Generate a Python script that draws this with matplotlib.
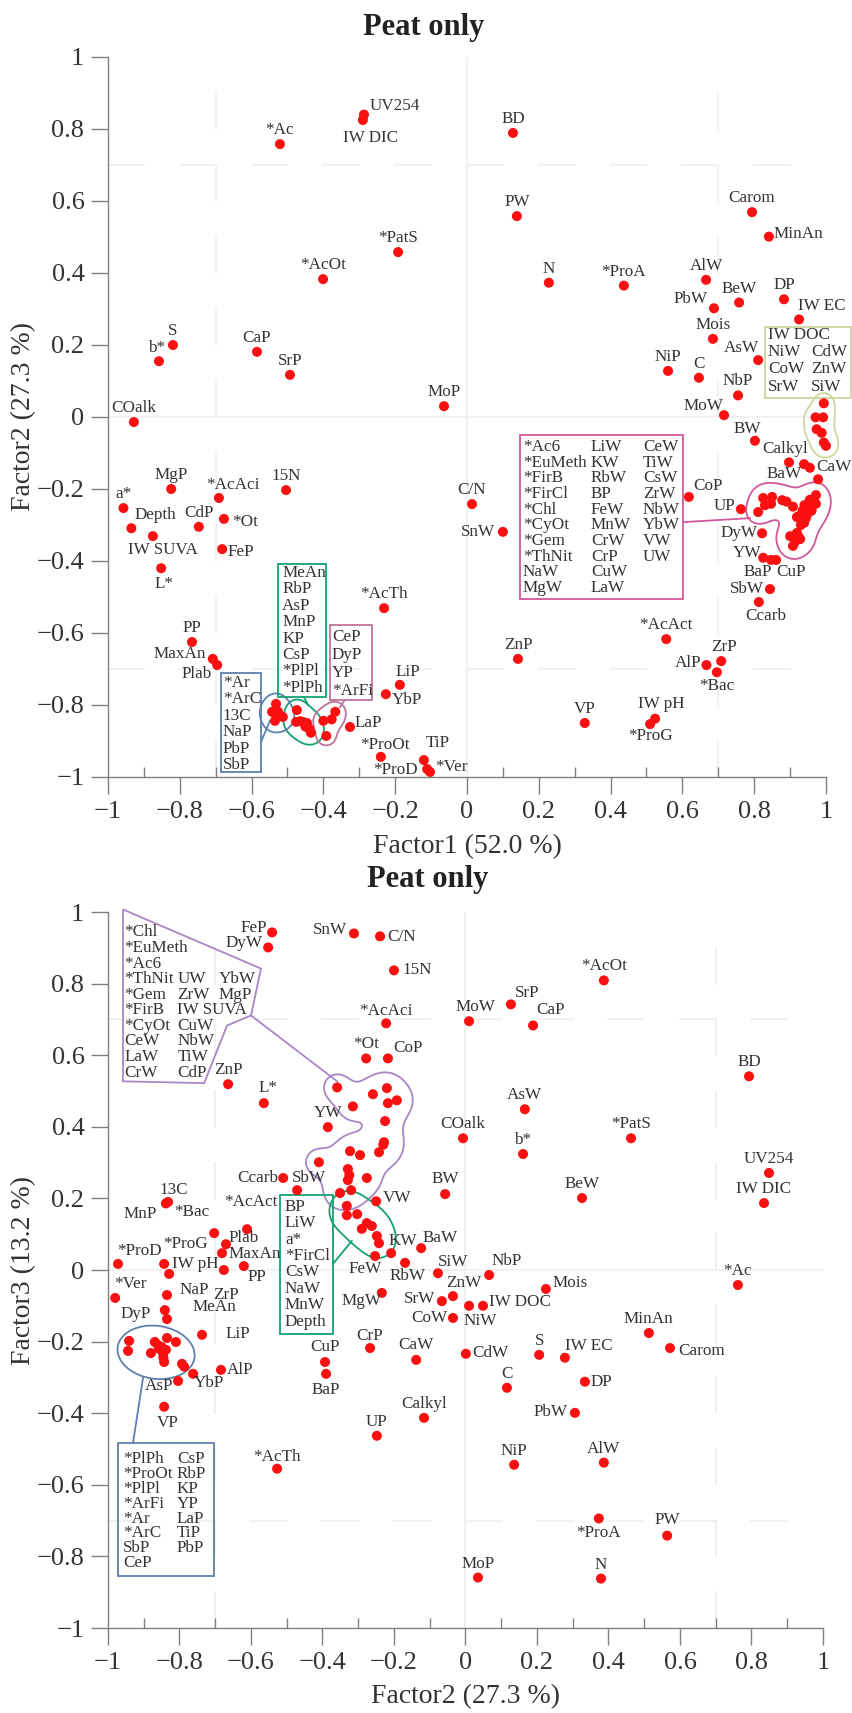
import numpy as np
import matplotlib
matplotlib.use('Agg')
import matplotlib.pyplot as plt
from matplotlib.patches import Rectangle, Polygon, Ellipse
from matplotlib.ticker import FuncFormatter

plt.rcParams['font.family'] = ['Liberation Serif', 'DejaVu Serif']

# ---------------- top panel : Factor1 vs Factor2 ----------------
TOP_NAMES = ['UV254', 'IW DIC', '*Ac', '*PatS', '*AcOt', 'S', 'b*', 'CaP', 'SrP', 'MoP',
             'COalk', 'BD', 'PW', 'N', '*ProA', 'Carom', 'MinAn', 'AlW', 'BeW', 'PbW',
             'DP', 'IW EC', 'Mois', 'AsW', 'NiP', 'C', 'NbP', 'MoW', 'C/N', 'SnW',
             'CoP', 'UP', 'BW', 'Calkyl', 'BaW', 'CaW', '', 'DyW', 'YW', 'BaP',
             'CuP', 'SbW', 'Ccarb', '*AcAct', 'ZnP', 'ZrP', 'AlP', '*Bac', 'VP', 'IW pH',
             '*ProG', 'MgP', 'a*', 'Depth', 'IW SUVA', 'CdP', '*AcAci', '*Ot', 'FeP', '15N',
             'L*', '*AcTh', 'PP', 'MaxAn', 'Plab', 'LiP', 'YbP', 'LaP', '*ProOt', 'TiP',
             '*ProD', '*Ver']
TOP_X = [-0.287, -0.290, -0.521, -0.192, -0.401, -0.819, -0.858, -0.585, -0.493, -0.064,
         -0.928, 0.128, 0.139, 0.228, 0.437, 0.794, 0.841, 0.666, 0.758, 0.688,
         0.883, 0.925, 0.685, 0.811, 0.560, 0.646, 0.755, 0.716, 0.014, 0.100,
         0.618, 0.763, 0.802, 0.897, 0.939, 0.955, 0.978, 0.822, 0.825, 0.847,
         0.861, 0.844, 0.813, 0.555, 0.142, 0.708, 0.667, 0.696, 0.328, 0.524,
         0.510, -0.824, -0.957, -0.935, -0.875, -0.747, -0.691, -0.677, -0.682, -0.504,
         -0.852, -0.231, -0.766, -0.708, -0.696, -0.187, -0.226, -0.326, -0.240, -0.120,
         -0.111, -0.103]
TOP_Y = [0.840, 0.825, 0.758, 0.458, 0.383, 0.200, 0.155, 0.181, 0.117, 0.030,
         -0.014, 0.789, 0.558, 0.373, 0.365, 0.569, 0.501, 0.381, 0.318, 0.302,
         0.327, 0.271, 0.217, 0.158, 0.128, 0.109, 0.060, 0.005, -0.242, -0.319,
         -0.222, -0.256, -0.066, -0.126, -0.131, -0.141, -0.173, -0.323, -0.391, -0.397,
         -0.397, -0.478, -0.514, -0.617, -0.672, -0.678, -0.689, -0.709, -0.850, -0.838,
         -0.853, -0.200, -0.253, -0.309, -0.331, -0.305, -0.225, -0.283, -0.367, -0.203,
         -0.420, -0.531, -0.625, -0.672, -0.689, -0.744, -0.770, -0.861, -0.944, -0.953,
         -0.978, -0.986]

# grouped variables of the top panel
TOP_YEL_X = [0.994, 0.971, 0.992, 0.974, 0.988, 0.994, 1.000]
TOP_YEL_Y = [0.038, -0.001, -0.001, -0.034, -0.044, -0.071, -0.080]
TOP_YEL_COLS = [['IW DOC', 'NiW', 'CoW', 'SrW'], ['', 'CdW', 'ZnW', 'SiW']]

TOP_PINK_X = [0.825, 0.850, 0.847, 0.878, 0.908, 0.811, 0.925, 0.947, 0.958, 0.972,
              0.972, 0.950, 0.939, 0.919, 0.944, 0.900, 0.919, 0.928, 0.908, 0.935,
              0.960, 0.890, 0.930, 0.915, 0.940, 0.830, 0.955, 0.922]
TOP_PINK_Y = [-0.225, -0.222, -0.241, -0.231, -0.249, -0.264, -0.275, -0.253, -0.247, -0.217,
              -0.241, -0.267, -0.294, -0.278, -0.281, -0.331, -0.322, -0.339, -0.358, -0.260,
              -0.260, -0.235, -0.300, -0.345, -0.245, -0.245, -0.230, -0.330]
TOP_PINK_COLS = [['*Ac6', '*EuMeth', '*FirB', '*FirCl', '*Chl', '*CyOt', '*Gem', '*ThNit', 'NaW', 'MgW'],
                 ['LiW', 'KW', 'RbW', 'BP', 'FeW', 'MnW', 'CrW', 'CrP', 'CuW', 'LaW'],
                 ['CeW', 'TiW', 'CsW', 'ZrW', 'NbW', 'YbW', 'VW', 'UW']]

TOP_GREEN_X = [-0.474, -0.476, -0.457, -0.446, -0.435, -0.465, -0.450, -0.440]
TOP_GREEN_Y = [-0.814, -0.847, -0.847, -0.850, -0.877, -0.845, -0.860, -0.865]
TOP_GREEN_COLS = [['MeAn', 'RbP', 'AsP', 'MnP', 'KP', 'CsP', '*PlPl', '*PlPh']]

TOP_MAUVE_X = [-0.367, -0.377, -0.400, -0.392]
TOP_MAUVE_Y = [-0.819, -0.840, -0.844, -0.886]
TOP_MAUVE_COLS = [['CeP', 'DyP', 'YP', '*ArFi']]

TOP_BLUE_X = [-0.532, -0.543, -0.526, -0.513, -0.535, -0.530]
TOP_BLUE_Y = [-0.797, -0.819, -0.819, -0.833, -0.844, -0.830]
TOP_BLUE_COLS = [['*Ar', '*ArC', '13C', 'NaP', 'PbP', 'SbP']]

# ---------------- bottom panel : Factor2 vs Factor3 ----------------
BOT_NAMES = ['FeP', 'DyW', 'SnW', 'C/N', '15N', '*AcAci', '*Ot', 'CoP', 'ZnP', 'L*',
             'YW', 'Ccarb', 'SbW', '13C', 'MnP', 'VW', 'BW', 'KW', 'BaW', '*AcAct',
             '*Bac', 'Plab', 'MaxAn', 'PP', 'ZrP', '*ProG', 'IW pH', '*ProD', '*Ver', 'NaP',
             'MeAn', 'DyP', 'LiP', 'AlP', 'YbP', 'AsP', 'VP', 'FeW', 'RbW', 'MgW',
             'SiW', 'ZnW', 'SrW', 'CoW', 'NbP', 'NiW', 'IW DOC', 'COalk', 'b*', 'Mois',
             'CdW', 'S', 'IW EC', 'C', 'DP', 'MinAn', 'Carom', 'CaW', '*Ac', 'PbW',
             'NiP', 'AlW', '*ProA', 'PW', 'MoP', 'N', '*AcOt', 'SrP', 'CaP', 'MoW',
             'BD', 'AsW', '*PatS', 'UV254', 'IW DIC', 'BeW', 'CuP', 'BaP', 'CrP', 'Calkyl',
             'UP', '*AcTh']
BOT_X = [-0.541, -0.552, -0.312, -0.239, -0.200, -0.222, -0.278, -0.217, -0.664, -0.564,
         -0.385, -0.510, -0.471, -0.832, -0.838, -0.250, -0.057, -0.208, -0.124, -0.611,
         -0.703, -0.670, -0.681, -0.620, -0.676, -0.843, -0.829, -0.972, -0.980, -0.835,
         -0.841, -0.835, -0.737, -0.684, -0.762, -0.804, -0.843, -0.253, -0.169, -0.234,
         -0.077, -0.035, -0.066, -0.035, 0.066, 0.010, 0.049, -0.007, 0.161, 0.225,
         0.001, 0.206, 0.278, 0.116, 0.334, 0.513, 0.572, -0.138, 0.762, 0.306,
         0.136, 0.387, 0.373, 0.564, 0.035, 0.379, 0.387, 0.127, 0.189, 0.010,
         0.793, 0.166, 0.463, 0.849, 0.835, 0.326, -0.393, -0.390, -0.267, -0.116,
         -0.248, -0.527]
BOT_Y = [0.943, 0.901, 0.940, 0.932, 0.837, 0.689, 0.591, 0.591, 0.519, 0.466,
         0.399, 0.257, 0.223, 0.190, 0.186, 0.192, 0.212, 0.047, 0.061, 0.114,
         0.103, 0.072, 0.047, 0.011, 0.000, 0.017, -0.011, 0.017, -0.078, -0.070,
         -0.112, -0.137, -0.181, -0.279, -0.290, -0.310, -0.382, 0.039, 0.020, -0.064,
         -0.009, -0.073, -0.087, -0.134, -0.014, -0.100, -0.100, 0.368, 0.324, -0.053,
         -0.234, -0.237, -0.245, -0.329, -0.312, -0.176, -0.218, -0.251, -0.042, -0.399,
         -0.544, -0.538, -0.694, -0.742, -0.859, -0.862, 0.809, 0.742, 0.683, 0.695,
         0.541, 0.449, 0.368, 0.271, 0.187, 0.201, -0.257, -0.290, -0.218, -0.413,
         -0.463, -0.555]

BOT_PURPLE_X = [-0.359, -0.259, -0.220, -0.192, -0.217, -0.315, -0.225, -0.228, -0.242, -0.295,
                -0.323, -0.410, -0.329, -0.329, -0.276, -0.320, -0.351, -0.325, -0.230]
BOT_PURPLE_Y = [0.510, 0.491, 0.508, 0.474, 0.466, 0.457, 0.416, 0.357, 0.329, 0.321,
                0.332, 0.301, 0.282, 0.251, 0.257, 0.223, 0.215, 0.265, 0.350]
BOT_PURPLE_COLS = [['*Chl', '*EuMeth', '*Ac6', '*ThNit', '*Gem', '*FirB', '*CyOt', 'CeW', 'LaW', 'CrW'],
                   ['', '', '', 'UW', 'ZrW', 'IW SUVA', 'CuW', 'NbW', 'TiW', 'CdP'],
                   ['', '', '', 'YbW', 'MgP']]

BOT_GREEN_X = [-0.332, -0.332, -0.303, -0.276, -0.262, -0.290, -0.248, -0.242]
BOT_GREEN_Y = [0.179, 0.153, 0.156, 0.131, 0.123, 0.115, 0.095, 0.075]
BOT_GREEN_COLS = [['BP', 'LiW', 'a*', '*FirCl', 'CsW', 'NaW', 'MnW', 'Depth']]

BOT_BLUE_X = [-0.941, -0.944, -0.869, -0.880, -0.857, -0.838, -0.846, -0.835, -0.810, -0.843,
              -0.793, -0.787, -0.850, -0.845, -0.860]
BOT_BLUE_Y = [-0.198, -0.226, -0.201, -0.232, -0.220, -0.223, -0.234, -0.190, -0.201, -0.257,
              -0.262, -0.270, -0.215, -0.245, -0.210]
BOT_BLUE_COLS = [['*PlPh', '*ProOt', '*PlPl', '*ArFi', '*Ar', '*ArC', 'SbP', 'CeP'],
                 ['CsP', 'RbP', 'KP', 'YP', 'LaP', 'TiP', 'PbP']]

# label placement (offset in pixels, + = up) ; default is centred above the dot
TOP_LABEL_POS = {
    'UV254': (6, 9, 'left'), 'IW DIC': (8, -18, 'center'), 'b*': (-2, 13, 'center'),
    'MinAn': (5, 3, 'left'), 'PbW': (-6, 9, 'right'), 'IW EC': (23, 13, 'center'),
    'AsW': (-17, 12, 'center'), 'MoW': (-21, 9, 'center'), 'SnW': (-8, 0, 'right'),
    'CoP': (19, 11, 'center'), 'UP': (-6, 3, 'right'), 'BW': (-8, 12, 'center'),
    'Calkyl': (-4, 13, 'center'), 'BaW': (-20, -10, 'center'), 'CaW': (6, 1, 'left'),
    'DyW': (-5, 0, 'right'), 'YW': (-2, 5, 'right'), 'BaP': (-13, -12, 'center'),
    'CuP': (15, -12, 'center'), 'SbW': (-6, 0, 'right'), 'Ccarb': (7, -14, 'center'),
    'ZrP': (3, 14, 'center'), 'AlP': (-5, 2, 'right'), '*Bac': (0, -14, 'center'),
    'IW pH': (6, 15, 'center'), '*ProG': (0, -12, 'center'), 'Depth': (3, 13, 'left'),
    'IW SUVA': (10, -14, 'center'), '*AcAci': (14, 13, 'center'), '*Ot': (8, -3, 'left'),
    'FeP': (5, -3, 'left'), 'L*': (3, -16, 'center'), 'MaxAn': (-7, 5, 'right'),
    'Plab': (-5, -9, 'right'), 'LiP': (8, 13, 'center'), 'YbP': (6, -6, 'left'),
    'LaP': (5, 4, 'left'), '*ProOt': (4, 12, 'center'), 'TiP': (14, 17, 'center'),
    '*ProD': (-9, -1, 'right'), '*Ver': (5, 5, 'left'),
}
BOT_LABEL_POS = {
    'FeP': (-5, 4, 'right'), 'DyW': (-6, 4, 'right'), 'SnW': (-7, 3, 'right'),
    'C/N': (7, -1, 'left'), '15N': (9, 0, 'left'), '*AcAci': (0, 12, 'center'),
    'CoP': (20, 10, 'center'), 'L*': (4, 15, 'center'), 'Ccarb': (-5, 0, 'right'),
    'SbW': (12, 12, 'center'), '13C': (6, 12, 'center'), 'MnP': (-26, -11, 'center'),
    'VW': (7, 3, 'left'), 'BW': (0, 15, 'center'), 'KW': (12, 12, 'center'),
    'BaW': (19, 10, 'center'), '*AcAct': (4, 27, 'center'), '*Bac': (-22, 21, 'center'),
    'Plab': (3, 6, 'left'), 'MaxAn': (7, -1, 'left'), 'PP': (13, -11, 'center'),
    'ZrP': (2, -25, 'center'), '*ProG': (21, 20, 'center'), 'IW pH': (3, 10, 'left'),
    '*ProD': (21, 13, 'center'), '*Ver': (15, 14, 'center'), 'NaP': (13, 5, 'left'),
    'MeAn': (28, 3, 'left'), 'DyP': (-16, 5, 'right'), 'LiP': (24, 1, 'left'),
    'AlP': (6, 0, 'left'), 'YbP': (16, -9, 'center'), 'AsP': (-19, -5, 'center'),
    'VP': (4, -16, 'center'), 'FeW': (-10, -13, 'center'), 'RbW': (2, -13, 'center'),
    'MgW': (-20, -8, 'center'), 'SiW': (15, 11, 'center'), 'ZnW': (11, 13, 'center'),
    'SrW': (-7, 2, 'right'), 'CoW': (-6, 0, 'right'), 'NbP': (18, 14, 'center'),
    'NiW': (11, -15, 'center'), 'IW DOC': (6, 4, 'left'), 'Mois': (7, 6, 'left'),
    'CdW': (6, 1, 'left'), 'IW EC': (24, 12, 'center'), 'DP': (6, 0, 'left'),
    'Carom': (8, -3, 'left'), 'CaW': (0, 15, 'center'), 'PbW': (-7, 1, 'right'),
    '*ProA': (0, -15, 'center'), 'PW': (0, 16, 'center'), 'SrP': (16, 11, 'center'),
    'CaP': (17, 15, 'center'), 'MoW': (6, 14, 'center'), 'CuP': (0, 15, 'center'),
    'BaP': (0, -16, 'center'), 'CrP': (0, 12, 'center'), '*AcTh': (0, 12, 'center'),
}

RED = '#fa1010'
TXT = '#333333'
AX_COL = '#808080'
GRID = '#f1f1f1'
FS = 12.3


def tick_fmt(v, pos):
    if abs(v) < 1e-9:
        return '0'
    return f'{v:g}'.replace('-', '\u2212')


def style_axes(ax, xlabel, ylabel):
    ax.set_xlim(-1, 1)
    ax.set_ylim(-1, 1)
    for s in ['top', 'right']:
        ax.spines[s].set_visible(False)
    for s in ['left', 'bottom']:
        ax.spines[s].set_color(AX_COL)
        ax.spines[s].set_linewidth(1.0)
    ax.set_xticks(np.arange(-1, 1.01, 0.2))
    ax.set_yticks(np.arange(-1, 1.01, 0.2))
    ax.set_xticks(np.arange(-0.9, 1.0, 0.2), minor=True)
    ax.xaxis.set_major_formatter(FuncFormatter(tick_fmt))
    ax.yaxis.set_major_formatter(FuncFormatter(tick_fmt))
    ax.tick_params(which='major', direction='out', length=12, width=1, color=AX_COL,
                   labelsize=19, labelcolor=TXT, pad=5)
    ax.tick_params(axis='x', which='minor', direction='in', length=7, width=1, color=AX_COL)
    # faint reference lines at 0 and +/-0.7
    ax.axhline(0, color=GRID, lw=1.5, zorder=0)
    ax.axvline(0, color=GRID, lw=1.5, zorder=0)
    for a in (-0.7, 0.7):
        for s in np.arange(-1, 0.95, 0.2):
            ax.plot([s, s + 0.1], [a, a], color=GRID, lw=1.5, zorder=0)
            ax.plot([a, a], [s, s + 0.1], color=GRID, lw=1.5, zorder=0)
    ax.text(0.5, -0.096, xlabel, transform=ax.transAxes, ha='center', va='center',
            fontsize=20, color=TXT)
    ax.text(-0.118, 0.5, ylabel, transform=ax.transAxes, ha='center', va='center',
            rotation=90, fontsize=20, color=TXT)


def draw_points(ax, names, xs, ys, label_pos):
    ax.scatter(xs, ys, s=52, color=RED, edgecolors='none', zorder=5, clip_on=False)
    for n, x, y in zip(names, xs, ys):
        if not n:
            continue
        dx, dy, ha = label_pos.get(n, (0, 14, 'center'))
        ax.annotate(n, (x, y), xytext=(dx, dy), textcoords='offset pixels',
                    ha=ha, va='center', fontsize=FS, color=TXT, zorder=6)


def draw_group(ax, xs, ys):
    ax.scatter(xs, ys, s=52, color=RED, edgecolors='none', zorder=5, clip_on=False)


def blob(ax, xs, ys, color, pad, sigma):
    xs, ys = np.asarray(xs), np.asarray(ys)
    m = pad + 3 * sigma
    gx = np.linspace(xs.min() - m, xs.max() + m, 400)
    gy = np.linspace(ys.min() - m, ys.max() + m, 400)
    X, Y = np.meshgrid(gx, gy)
    F = np.zeros_like(X)
    for x, y in zip(xs, ys):
        F += np.exp(-((X - x) ** 2 + (Y - y) ** 2) / (2 * sigma ** 2))
    lev = np.exp(-pad ** 2 / (2 * sigma ** 2))
    cs = ax.contour(X, Y, F, levels=[lev], colors=[color], linewidths=1.3, zorder=4)
    cs.set_clip_on(False)


def box_text(ax, cols, col_x, y0, step, color, rect=None):
    for col, cx in zip(cols, col_x):
        for ri, t in enumerate(col):
            if t:
                ax.text(cx, y0 - ri * step, t, ha='left', va='center', fontsize=FS,
                        color=TXT, zorder=6, clip_on=False)
    if rect is not None:
        (x0, y0r), (x1, y1r) = rect
        ax.add_patch(Rectangle((x0, y0r), x1 - x0, y1r - y0r, fill=False, ec=color,
                               lw=1.3, zorder=4, clip_on=False))


def link(ax, p, q, color):
    ax.plot([p[0], q[0]], [p[1], q[1]], color=color, lw=1.3, zorder=4, clip_on=False)


YEL = '#cdd69c'
PINK = '#d0579b'
GREEN = '#14a26f'
MAUVE = '#c0739a'
BLUE = '#5f7fae'
PURPLE = '#a985c6'

fig = plt.figure(figsize=(8.52, 17.13), dpi=100)
ax1 = fig.add_axes([0.12676, 0.54641, 0.84272, 0.42032])
ax2 = fig.add_axes([0.12676, 0.04962, 0.83920, 0.41798])

# ----- top panel -----
style_axes(ax1, 'Factor1 (52.0 %)', 'Factor2 (27.3 %)')
draw_points(ax1, TOP_NAMES, TOP_X, TOP_Y, TOP_LABEL_POS)
for gx, gy, col, pad, sig in [(TOP_YEL_X, TOP_YEL_Y, YEL, 0.028, 0.02),
                              (TOP_PINK_X, TOP_PINK_Y, PINK, 0.03, 0.022),
                              (TOP_GREEN_X, TOP_GREEN_Y, GREEN, 0.028, 0.02),
                              (TOP_MAUVE_X, TOP_MAUVE_Y, MAUVE, 0.026, 0.02),
                              (TOP_BLUE_X, TOP_BLUE_Y, BLUE, 0.026, 0.02)]:
    draw_group(ax1, gx, gy)
    blob(ax1, gx, gy, col, pad, sig)

box_text(ax1, TOP_YEL_COLS, [0.838, 0.958], 0.228, 0.0478, YEL, rect=((0.830, 0.053), (1.070, 0.250)))
box_text(ax1, TOP_PINK_COLS, [0.156, 0.345, 0.490], -0.083, 0.0436, PINK, rect=((0.148, -0.506), (0.602, -0.050)))
link(ax1, (0.602, -0.292), (0.788, -0.281), PINK)
box_text(ax1, TOP_GREEN_COLS, [-0.515], -0.433, 0.0456, GREEN, rect=((-0.526, -0.778), (-0.393, -0.408)))
link(ax1, (-0.454, -0.778), (-0.443, -0.800), GREEN)
box_text(ax1, TOP_MAUVE_COLS, [-0.376], -0.611, 0.050, MAUVE, rect=((-0.382, -0.786), (-0.265, -0.578)))
link(ax1, (-0.340, -0.786), (-0.354, -0.806), MAUVE)
box_text(ax1, TOP_BLUE_COLS, [-0.680], -0.739, 0.0456, BLUE, rect=((-0.685, -0.986), (-0.574, -0.711)))
link(ax1, (-0.574, -0.903), (-0.549, -0.844), BLUE)

# ----- bottom panel -----
style_axes(ax2, 'Factor2 (27.3 %)', 'Factor3 (13.2 %)')
draw_points(ax2, BOT_NAMES, BOT_X, BOT_Y, BOT_LABEL_POS)
draw_group(ax2, BOT_PURPLE_X, BOT_PURPLE_Y)
blob(ax2, BOT_PURPLE_X, BOT_PURPLE_Y, PURPLE, 0.036, 0.032)
draw_group(ax2, BOT_GREEN_X, BOT_GREEN_Y)
blob(ax2, BOT_GREEN_X, BOT_GREEN_Y, GREEN, 0.034, 0.03)
draw_group(ax2, BOT_BLUE_X, BOT_BLUE_Y)
bx, by = np.asarray(BOT_BLUE_X), np.asarray(BOT_BLUE_Y)
ax2.add_patch(Ellipse(((bx.min() + bx.max()) / 2, (by.min() + by.max()) / 2),
                      bx.max() - bx.min() + 0.06, by.max() - by.min() + 0.068,
                      angle=-8, fill=False, ec=BLUE, lw=1.3, zorder=4))

ax2.add_patch(Polygon([(-0.958, 1.007), (-0.572, 0.842), (-0.600, 0.711), (-0.667, 0.683),
                       (-0.731, 0.522), (-0.958, 0.527)], closed=True, fill=False,
                      ec=PURPLE, lw=1.3, zorder=4, clip_on=False))
link(ax2, (-0.600, 0.711), (-0.359, 0.527), PURPLE)
box_text(ax2, BOT_PURPLE_COLS, [-0.955, -0.806, -0.690], 0.943, 0.0435, PURPLE)
box_text(ax2, BOT_GREEN_COLS, [-0.505], 0.176, 0.0457, GREEN, rect=((-0.519, -0.179), (-0.371, 0.209)))
link(ax2, (-0.371, 0.017), (-0.318, 0.081), GREEN)
box_text(ax2, BOT_BLUE_COLS, [-0.958, -0.807], -0.527, 0.0418, BLUE, rect=((-0.972, -0.856), (-0.703, -0.483)))
link(ax2, (-0.930, -0.483), (-0.902, -0.301), BLUE)

fig.text(0.497, 1 - 35 / 1713, 'Peat only', ha='center', va='baseline', fontsize=22,
         fontweight='bold', color='#222222')
fig.text(0.502, 1 - 887 / 1713, 'Peat only', ha='center', va='baseline', fontsize=22,
         fontweight='bold', color='#222222')

fig.savefig('out.png', dpi=100)
